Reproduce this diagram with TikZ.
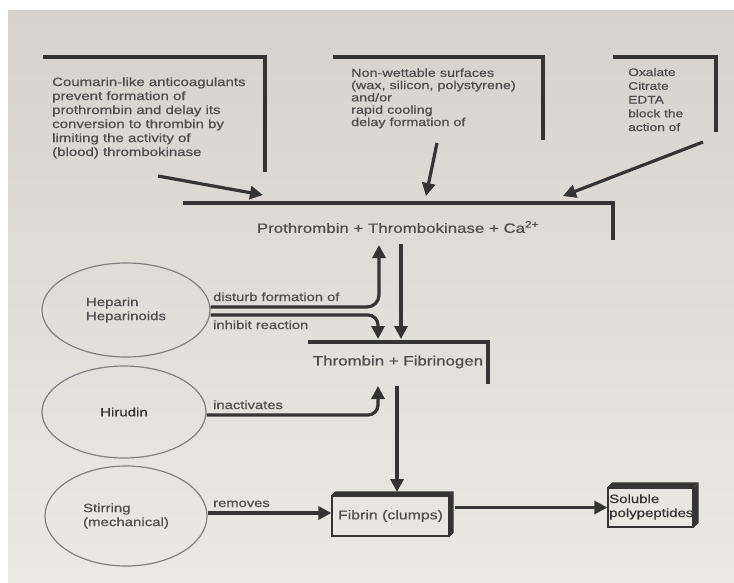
\documentclass[tikz,border=0pt]{standalone}
\usepackage{fontspec}
\setmainfont{Liberation Sans}[FakeStretch=1.25,FakeBold=0.6]
\usetikzlibrary{arrows.meta,shapes.geometric}
\definecolor{paperTop}{RGB}{214,211,206}
\definecolor{paperBot}{RGB}{234,233,229}
\definecolor{ink}{RGB}{52,52,52}
\definecolor{txt}{RGB}{78,78,78}
\definecolor{ellc}{RGB}{128,128,128}
\tikzset{
  bar/.style={draw=ink, line width=3.8pt, line join=miter},
  arr/.style={draw=ink, line width=3.2pt, -{Triangle[length=13pt,width=13pt]}},
  lab/.style={text=txt, inner sep=0pt, anchor=base west, font=\fontsize{11.8}{14}\selectfont},
  para/.style={text=txt, inner sep=0pt, anchor=base west, align=left},
  ctr/.style={text=txt, inner sep=0pt, font=\fontsize{13.5}{16}\selectfont},
  ell/.style={ellipse, draw=ellc, line width=1.2pt, text=txt, align=left, inner sep=0pt, font=\fontsize{12}{14}\selectfont},
  face/.style={draw=ink, line width=1.3pt, text=txt, inner sep=0pt},
}
\begin{document}
\begin{tikzpicture}[x=1pt,y=-1pt]
\useasboundingbox (0,0) rectangle (734,582);
\fill[white] (0,0) rectangle (734,582);
\shade[top color=paperTop, bottom color=paperBot] (8,10) rectangle (734,582);

% top-left box (anchor = baseline of last line)
\node[para, font=\fontsize{12}{14}\selectfont] (cou) at (52,156) {Coumarin-like anticoagulants\\prevent formation of\\prothrombin and delay its\\conversion to thrombin by\\limiting the activity of\\(blood) thrombokinase};
\coordinate (couA) at (43,57); \coordinate (couB) at (265,172);
\draw[bar] (couA) -| (couB);

% top-middle box
\node[para, font=\fontsize{11.5}{12.3}\selectfont] (nws) at (351,126) {Non-wettable surfaces\\(wax, silicon, polystyrene)\\and/or\\rapid cooling\\delay formation of};
\coordinate (nwsA) at (333,57); \coordinate (nwsB) at (543,140);
\draw[bar] (nwsA) -| (nwsB);

% top-right box
\node[para, font=\fontsize{11}{13.75}\selectfont] (oxa) at (628,131) {Oxalate\\Citrate\\EDTA\\block the\\action of};
\coordinate (oxaA) at (613,57); \coordinate (oxaB) at (716,132);
\draw[bar] (oxaA) -| (oxaB);

% main reaction
\node[ctr] (pro) at (398,227) {Prothrombin + Thrombokinase + Ca\textsuperscript{2+}};
\coordinate (proA) at (183,203); \coordinate (proB) at (613,240);
\draw[bar] (proA) -| (proB);

% thrombin
\node[ctr] (thr) at (398,362) {Thrombin + Fibrinogen};
\coordinate (thrA) at (308,342); \coordinate (thrB) at (488,384);
\draw[bar] (thrA) -| (thrB);

% arrows into main
\coordinate (a1s) at (158,176); \coordinate (a1e) at (263,195);
\coordinate (a2s) at (437,143); \coordinate (a2e) at (426,196);
\coordinate (a3s) at (703,142); \coordinate (a3e) at (563,196);
\draw[arr] (a1s) -- (a1e);
\draw[arr] (a2s) -- (a2e);
\draw[arr] (a3s) -- (a3e);

% ellipses
\node[ell, minimum width=168, minimum height=94] (hep) at (126,310) {Heparin\\Heparinoids};
\node[ell, minimum width=164, minimum height=92, text=ink] (hir) at (124,412) {Hirudin};
\node[ell, minimum width=162, minimum height=100] (sti) at (126,516) {Stirring\\(mechanical)};

% labels
\node[lab] (l1) at (213,301) {disturb formation of};
\node[lab] (l2) at (213,329) {inhibit reaction};
\node[lab] (l3) at (213,409) {inactivates};
\node[lab] (l4) at (213,507) {removes};

% down arrows
\coordinate (d1s) at (401,244); \coordinate (d1e) at (401,339);
\draw[arr] (d1s) -- (d1e);
\coordinate (upT) at (379,245); \coordinate (inT) at (378,339); \coordinate (hiT) at (378,386);
\draw[arr, rounded corners=12pt] ([yshift=3pt]hep.east) -- (379,307) -- (upT);
\draw[arr, rounded corners=10pt] ([yshift=-5pt]hep.east) -- (378,315) -- (inT);
\draw[arr, rounded corners=10pt] ([yshift=-3pt]hir.east) -- (378,415) -- (hiT);

% fibrin box
\node[face, minimum width=117, minimum height=40, font=\fontsize{12.7}{15}\selectfont] (fib) at (390.5,516) {Fibrin (clumps)};
\fill[ink] (fib.north west) -- ++(4,-4) -- ([shift={(4,-4)}]fib.north east) -- (fib.north east) -- cycle;
\fill[ink] (fib.north east) -- ++(4,-4) -- ([shift={(4,-4)}]fib.south east) -- (fib.south east) -- cycle;
\coordinate (d2s) at (397,386); \coordinate (d2e) at (397,492);
\draw[arr] (d2s) -- (d2e);

% soluble box
\node[face, minimum width=85, minimum height=39] (sol) at (650.5,507.5) {};
\fill[ink] (sol.north west) -- ++(5,-5) -- ([shift={(5,-5)}]sol.north east) -- (sol.north east) -- cycle;
\fill[ink] (sol.north east) -- ++(5,-5) -- ([shift={(5,-5)}]sol.south east) -- (sol.south east) -- cycle;
\node[para, text=ink, font=\fontsize{12}{14}\selectfont] (soltxt) at (609,517) {Soluble\\polypeptides};

\draw[arr] ([yshift=3pt]sti.east) -- ([yshift=3pt]fib.west);
\draw[arr] ([xshift=5pt]fib.east |- sol.west) -- (sol.west);
\end{tikzpicture}
\end{document}
